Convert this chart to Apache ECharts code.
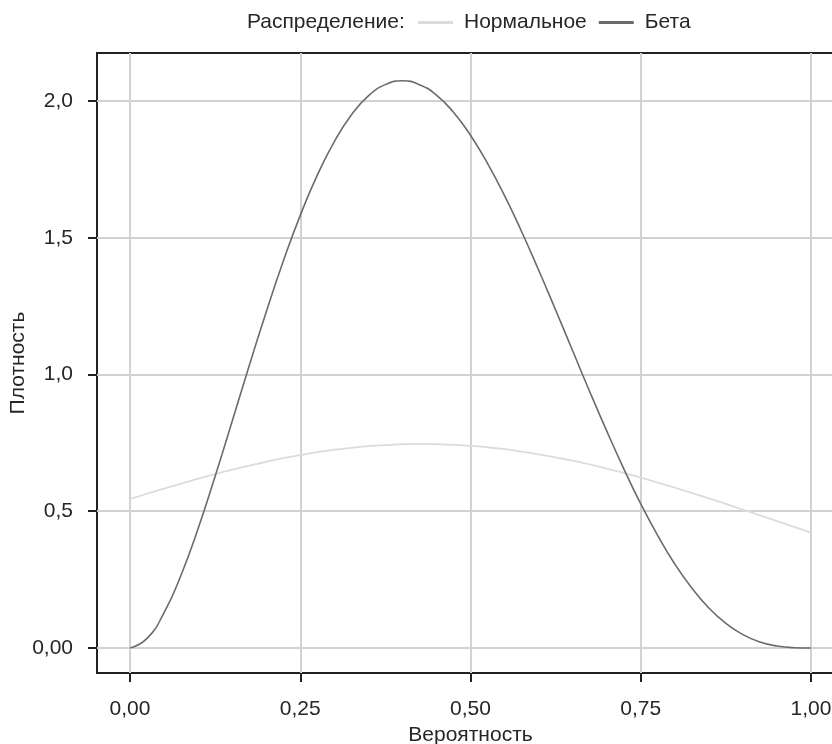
<!DOCTYPE html>
<html>
<head>
<meta charset="utf-8">
<script src="https://cdn.jsdelivr.net/npm/echarts@6/dist/echarts.min.js"></script>
<style>
  html, body { margin: 0; padding: 0; background: #ffffff; }
  #chart { width: 832px; height: 744px; }
</style>
</head>
<body>
<div id="chart"></div>
<script>
// Probability grid (x) and density values of the two distributions
const probability = [
  0, 0.025, 0.05, 0.075, 0.1, 0.125, 0.15, 0.175, 0.2, 0.225,
  0.25, 0.275, 0.3, 0.325, 0.35, 0.375, 0.4, 0.425, 0.45, 0.475,
  0.5, 0.525, 0.55, 0.575, 0.6, 0.625, 0.65, 0.675, 0.7, 0.725,
  0.75, 0.775, 0.8, 0.825, 0.85, 0.875, 0.9, 0.925, 0.95, 0.975, 1
];
const normalDensity = [
  0.545, 0.564, 0.583, 0.601, 0.619, 0.636, 0.652, 0.667, 0.681, 0.694,
  0.705, 0.716, 0.725, 0.732, 0.738, 0.742, 0.745, 0.746, 0.745, 0.743,
  0.739, 0.734, 0.727, 0.718, 0.708, 0.697, 0.685, 0.671, 0.656, 0.640,
  0.623, 0.605, 0.586, 0.567, 0.547, 0.527, 0.506, 0.485, 0.464, 0.443, 0.422
];
const betaDensity = [
  0.000, 0.035, 0.129, 0.267, 0.437, 0.628, 0.829, 1.032, 1.229, 1.414,
  1.582, 1.729, 1.852, 1.949, 2.019, 2.060, 2.074, 2.060, 2.022, 1.959,
  1.875, 1.772, 1.654, 1.523, 1.382, 1.236, 1.087, 0.938, 0.794, 0.656,
  0.527, 0.411, 0.307, 0.219, 0.146, 0.090, 0.049, 0.022, 0.007, 0.001, 0.000
];

const xTicks = [0, 0.25, 0.5, 0.75, 1];
const xTickLabels = ['0,00', '0,25', '0,50', '0,75', '1,00'];
const yTicks = [0, 0.5, 1, 1.5, 2];
const yTickLabels = ['0,00', '0,5', '1,0', '1,5', '2,0'];

const seriesNames = ['Нормальное', 'Бета'];
const seriesColors = ['#dcdcdc', '#6b6b6b'];

const FONT = '"Liberation Sans", Arial, Helvetica, sans-serif';
const INK = '#262626';
const FS = 21;

function pairs(xs, ys) {
  return xs.map((x, i) => [x, ys[i]]);
}
function labelFor(ticks, labels) {
  return v => {
    const i = ticks.findIndex(t => Math.abs(t - v) < 1e-9);
    return i >= 0 ? labels[i] : '';
  };
}

const chart = echarts.init(document.getElementById('chart'), null, { renderer: 'canvas' });

chart.setOption({
  animation: false,
  backgroundColor: '#ffffff',
  textStyle: { fontFamily: FONT, color: INK },
  title: {
    text: 'Распределение:',
    left: 247,
    top: 12,
    padding: 0,
    textStyle: { fontFamily: FONT, fontSize: FS, fontWeight: 'normal', color: INK }
  },
  legend: {
    left: 418,
    top: 12,
    padding: 0,
    icon: 'rect',
    itemWidth: 35,
    itemHeight: 3,
    itemGap: 12,
    textStyle: { fontFamily: FONT, fontSize: FS, color: INK, padding: [0, 0, 0, 6] },
    data: seriesNames
  },
  grid: {
    left: 97,
    right: -12,
    top: 53,
    bottom: 71,
    show: true,
    borderColor: '#222222',
    borderWidth: 2,
    containLabel: false,
    outerBoundsMode: 'none'
  },
  xAxis: {
    type: 'value',
    min: -0.0485,
    max: 1.0485,
    name: 'Вероятность',
    nameLocation: 'middle',
    nameGap: 52,
    nameTextStyle: { fontFamily: FONT, fontSize: FS, color: INK },
    axisLine: { show: false, onZero: false },
    axisTick: {
      show: true, length: 9, inside: false, customValues: xTicks,
      lineStyle: { color: '#222222', width: 2 }
    },
    axisLabel: {
      customValues: xTicks, margin: 26, fontFamily: FONT, fontSize: FS, color: INK,
      formatter: labelFor(xTicks, xTickLabels)
    },
    splitLine: { show: true, lineStyle: { color: '#d2d2d2', width: 2 } }
  },
  yAxis: {
    type: 'value',
    min: -0.0915,
    max: 2.1757,
    name: 'Плотность',
    nameLocation: 'middle',
    nameGap: 68,
    nameMoveOverlap: false,
    nameRotate: 90,
    nameTextStyle: { fontFamily: FONT, fontSize: FS, color: INK },
    axisLine: { show: false, onZero: false },
    axisTick: {
      show: true, length: 9, inside: false, customValues: yTicks,
      lineStyle: { color: '#222222', width: 2 }
    },
    axisLabel: {
      customValues: yTicks, margin: 24, fontFamily: FONT, fontSize: FS, color: INK,
      formatter: labelFor(yTicks, yTickLabels)
    },
    splitLine: { show: true, lineStyle: { color: '#d2d2d2', width: 2 } }
  },
  series: [
    {
      name: seriesNames[0],
      type: 'line',
      data: pairs(probability, normalDensity),
      smooth: true,
      symbol: 'none',
      color: seriesColors[0],
      lineStyle: { color: seriesColors[0], width: 1.8 }
    },
    {
      name: seriesNames[1],
      type: 'line',
      data: pairs(probability, betaDensity),
      smooth: true,
      symbol: 'none',
      color: seriesColors[1],
      lineStyle: { color: seriesColors[1], width: 1.6 }
    }
  ]
});
</script>
</body>
</html>
